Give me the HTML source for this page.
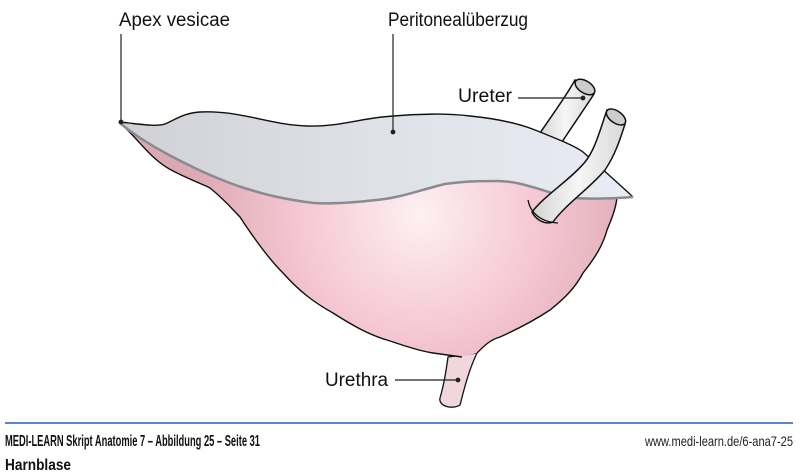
<!DOCTYPE html>
<html><head><meta charset="utf-8"><style>
html,body{margin:0;padding:0;background:#fff;width:800px;height:476px;overflow:hidden}
svg{display:block}
text{font-family:"Liberation Sans Narrow","Liberation Sans",sans-serif}
</style></head><body>
<svg width="800" height="476" viewBox="0 0 800 476" xmlns="http://www.w3.org/2000/svg">
<defs>
<radialGradient id="pk" cx="420" cy="215" r="230" gradientUnits="userSpaceOnUse">
<stop offset="0" stop-color="#fdf0f3"/><stop offset="0.5" stop-color="#f6c9d4"/><stop offset="1" stop-color="#dca8b3"/>
</radialGradient>
<linearGradient id="gr" x1="120" y1="0" x2="630" y2="0" gradientUnits="userSpaceOnUse">
<stop offset="0" stop-color="#d0d1d5"/><stop offset="0.5" stop-color="#dfe1e8"/><stop offset="1" stop-color="#e9ecf4"/>
</linearGradient>
<linearGradient id="tb" x1="0" y1="0" x2="1" y2="0">
<stop offset="0" stop-color="#d4d4d4"/><stop offset="0.5" stop-color="#f6f6f6"/><stop offset="1" stop-color="#d8d8d8"/>
</linearGradient>
</defs>
<!-- back ureter -->
<path d="M575,80 C565,98 552,115 538,136 L562,142 C575,122 585,108 594,94 Z" fill="url(#tb)" stroke="#111" stroke-width="1.5"/>
<ellipse cx="585" cy="87" rx="11" ry="6" transform="rotate(32 585 87)" fill="#ccc" stroke="#111" stroke-width="1.5"/>
<!-- urethra -->
<path d="M448,357 C446,372 443,388 440,398 C438,406 452,410 460,405 C464,390 468,372 477,353 Z" fill="#f2d6de" stroke="#111" stroke-width="1.3"/>
<!-- bladder -->
<path d="M119,122 C140,140 150,160 175,172 C195,182 205,185 210,188 C225,200 235,212 240,217 C255,240 270,260 283,273 C300,292 315,303 333,313 C355,327 370,335 387,340 C405,346 420,351 433,353 L460,357 L477,353 C485,345 490,340 500,337 C520,328 538,318 550,310 C565,298 575,288 583,273 C595,258 603,245 607,230 C612,218 616,208 617,197 L610,180 L560,165 L450,160 L300,175 L200,150 Z" fill="url(#pk)" stroke="none"/>
<path d="M119,122 C140,140 150,160 175,172 C195,182 205,185 210,188 C225,200 235,212 240,217 C255,240 270,260 283,273 C300,292 315,303 333,313 C355,327 370,335 387,340 C405,346 420,351 433,353 L462,357" fill="none" stroke="#111" stroke-width="1.4"/>
<path d="M477,353 C485,345 490,340 500,337 C520,328 538,318 550,310 C565,298 575,288 583,273 C595,258 603,245 607,230 C612,218 616,208 617,197" fill="none" stroke="#111" stroke-width="1.4"/>
<!-- peritoneum -->
<path d="M119,122 C140,124 155,127 165,124 C178,118 185,113 200,112 C240,110 270,125 307,126 C340,127 360,118 393,116 C420,114 445,113 470,116 C500,119 520,124 535,130 C560,140 575,146 583,152 C600,167 618,183 633,197 C605,199 580,199 566,197 C540,190 520,181 497,181 C470,181 460,182 445,184 C420,190 400,198 376,200 C350,203 330,204 314,203 C280,199 260,193 238,186 C210,176 190,166 169,155 C150,145 130,132 119,122 Z" fill="url(#gr)" stroke="none"/>
<path d="M119,122 C140,124 155,127 165,124 C178,118 185,113 200,112 C240,110 270,125 307,126 C340,127 360,118 393,116 C420,114 445,113 470,116 C500,119 520,124 535,130 C560,140 575,146 583,152 C600,167 618,183 633,197" fill="none" stroke="#111" stroke-width="1.4"/>
<path d="M119,122 C130,132 150,145 169,155 C190,166 210,176 238,186 C260,193 280,199 314,203 C330,204 350,203 376,200 C400,198 420,190 445,184 C460,182 470,181 497,181 C520,181 540,190 566,197 C580,199 605,199 633,197" fill="none" stroke="#8a8b90" stroke-width="2.5"/>
<!-- front ureter -->
<path d="M607,110 C600,130 595,150 585,162 C570,180 545,195 532,212 C536,220 545,225 553,222 C565,205 590,188 605,170 C615,155 620,140 625,124 Z" fill="url(#tb)" stroke="#111" stroke-width="1.5"/>
<path d="M528,200 C530,212 540,222 558,223" fill="none" stroke="#111" stroke-width="1.3"/>
<ellipse cx="616" cy="117" rx="11" ry="6" transform="rotate(35 616 117)" fill="#ccc" stroke="#111" stroke-width="1.5"/>
<!-- leader lines -->
<g stroke="#222" stroke-width="1.2" fill="#222">
<line x1="121" y1="34" x2="121" y2="122"/><circle cx="121" cy="122" r="1.8"/>
<line x1="393" y1="34" x2="393" y2="132"/><circle cx="393" cy="132" r="1.8"/>
<line x1="518" y1="98" x2="583" y2="98"/><circle cx="583" cy="98" r="1.8"/>
<line x1="395" y1="380" x2="458" y2="380"/><circle cx="458" cy="380" r="1.8"/>
</g>
<g font-size="19" fill="#111">
<text x="119" y="26" textLength="111" lengthAdjust="spacingAndGlyphs">Apex vesicae</text>
<text x="388" y="26" textLength="140" lengthAdjust="spacingAndGlyphs">Peritonealüberzug</text>
<text x="458" y="102" textLength="54" lengthAdjust="spacingAndGlyphs">Ureter</text>
<text x="325" y="386" textLength="63" lengthAdjust="spacingAndGlyphs">Urethra</text>
</g>
<line x1="5" y1="423" x2="793" y2="423" stroke="#1f5fb0" stroke-width="1.5"/>
<text x="5" y="446" font-size="16" font-weight="bold" fill="#111" textLength="255" lengthAdjust="spacingAndGlyphs">MEDI-LEARN Skript Anatomie 7 – Abbildung 25 – Seite 31</text>
<text x="793" y="446" font-size="14" fill="#222" text-anchor="end" textLength="148" lengthAdjust="spacingAndGlyphs">www.medi-learn.de/6-ana7-25</text>
<text x="5" y="470" font-size="16" font-weight="bold" fill="#111" textLength="66" lengthAdjust="spacingAndGlyphs">Harnblase</text>
</svg>
</body></html>
